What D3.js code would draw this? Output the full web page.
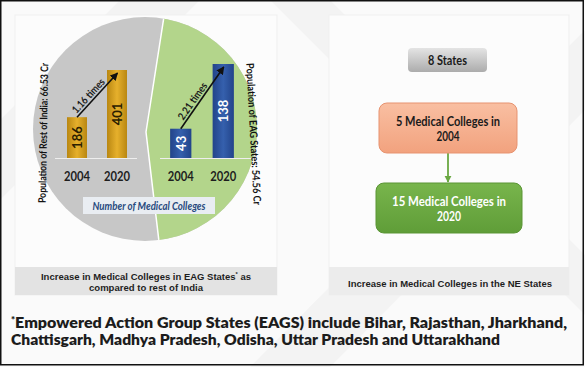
<!DOCTYPE html>
<html>
<head>
<meta charset="utf-8">
<script src="https://cdn.jsdelivr.net/npm/d3@7"></script>
<style>
  body { margin: 0; background: #fff; }
  svg { display: block; }
</style>
</head>
<body>
<svg id="chart"></svg>
<script>
const years = ["2004", "2020"]
const restOfIndia = [186, 401]
const eagStates = [43, 138]
const growth = ["1.16 times", "2.21 times"]
const population = ["Population of Rest of India: 66.53 Cr", "Population of EAG States: 54.56 Cr"]
const legendLabel = "Number of Medical Colleges"
const neSteps = [["8 States"], ["5 Medical Colleges in", "2004"], ["15 Medical Colleges in", "2020"]]
const captions = [["Increase in Medical Colleges in EAG States* as", "compared to rest of India"], ["Increase in Medical Colleges in the NE States"]]
const footnote = ["*Empowered Action Group States (EAGS) include Bihar, Rajasthan, Jharkhand,", "Chattisgarh, Madhya Pradesh, Odisha, Uttar Pradesh and Uttarakhand"]

const W = 585, H = 367
const CAL = "Lato, 'Open Sans', sans-serif"
const ARIAL = "'Liberation Sans', Arial, sans-serif"

const svg = d3.select("#chart").attr("width", W).attr("height", H)
const defs = svg.append("defs")

// fit a text element to a measured width
const fit = (sel, w) => sel.attr("textLength", w).attr("lengthAdjust", "spacingAndGlyphs")

// write text, turning "*" into a small raised mark
const starText = (sel, s) => {
    s.split(/(\*)/).filter(p => p).forEach(p => {
        const ts = sel.append("tspan").text(p)
        if (p === "*") ts.attr("font-size", "0.6em").attr("dy", "-0.35em")
        else if (sel.selectAll("tspan").size() > 1) ts.attr("dy", "0.21em")
    })
}

const hGrad = (id, stops) => {
    const g = defs.append("linearGradient").attr("id", id)
    stops.forEach(([o, c]) => g.append("stop").attr("offset", o).attr("stop-color", c))
}
const vGrad = (id, stops) => {
    const g = defs.append("linearGradient").attr("id", id).attr("x1", 0).attr("x2", 0).attr("y1", 0).attr("y2", 1)
    stops.forEach(([o, c]) => g.append("stop").attr("offset", o).attr("stop-color", c))
}
hGrad("gold", [[0, "#b98712"], [0.5, "#e6b02c"], [1, "#b98712"]])
hGrad("blue", [[0, "#22448a"], [0.5, "#3560ad"], [1, "#22448a"]])
vGrad("greyBox", [[0, "#e4e4e4"], [1, "#acacac"]])
vGrad("orangeBox", [[0, "#f9bfa2"], [1, "#f2a27e"]])
vGrad("greenBox", [[0, "#78b54c"], [1, "#5f9d38"]])

defs.append("marker").attr("id", "head").attr("viewBox", "0 0 10 10")
    .attr("refX", 9).attr("refY", 5).attr("markerWidth", 5).attr("markerHeight", 5)
    .attr("orient", "auto")
    .append("path").attr("d", "M0,0L10,5L0,10z").attr("fill", "#111")
defs.append("marker").attr("id", "headGreen").attr("viewBox", "0 0 10 10")
    .attr("refX", 9).attr("refY", 5).attr("markerWidth", 4).attr("markerHeight", 4)
    .attr("orient", "auto")
    .append("path").attr("d", "M0,0L10,5L0,10z").attr("fill", "#6aa842")

// page background with faint diagonal bands
svg.append("rect").attr("width", W).attr("height", H).attr("fill", "#fafafa")
const bands = [
    [[0, 120], [120, 0], [200, 0], [0, 200]],
    [[270, 0], [330, 0], [585, 255], [585, 315]],
    [[250, 367], [330, 367], [585, 110], [585, 30]]
]
svg.append("g").selectAll("path").data(bands).join("path")
    .attr("d", d => d3.line()(d) + "Z").attr("fill", "#f3f3f3")

// panels
const panels = [{ x: 15, w: 262 }, { x: 329, w: 240 }]
svg.append("g").selectAll("rect").data(panels).join("rect")
    .attr("x", d => d.x).attr("y", 15).attr("width", d => d.w).attr("height", 280)
    .attr("fill", "#fcfcfc").attr("stroke", "#efefef")
svg.append("g").selectAll("rect").data(panels).join("rect")
    .attr("x", d => d.x).attr("y", 267).attr("width", d => d.w).attr("height", 28)
    .attr("fill", (d, i) => i ? "#ececec" : "#e3e3e3")

// ---- left panel: split circle
const cx = 145, cy = 129, R = 112
const split = [[165, 10], [146, 132], [160, 250]]
defs.append("clipPath").attr("id", "greenClip").append("path")
    .attr("d", d3.line()([...split, [270, 250], [270, 10]]) + "Z")
defs.append("clipPath").attr("id", "circleClip").append("circle")
    .attr("cx", cx).attr("cy", cy).attr("r", R)

const disc = svg.append("g")
disc.append("circle").attr("cx", cx).attr("cy", cy).attr("r", R).attr("fill", "#c7c7c7")
disc.append("circle").attr("cx", cx).attr("cy", cy).attr("r", R).attr("fill", "#b3d58b")
    .attr("clip-path", "url(#greenClip)")
disc.append("path").attr("d", d3.line()(split)).attr("fill", "none")
    .attr("stroke", "#fff").attr("stroke-width", 1.5).attr("clip-path", "url(#circleClip)")

const baseY = 158
const charts = [
    { values: restOfIndia, range: [57, 137], top: 70, fill: "url(#gold)", label: "#2b2000", line: [55, 137] },
    { values: eagStates, range: [159.5, 244.5], top: 64, fill: "url(#blue)", label: "#fff", line: [160, 253] }
]

charts.forEach((c, ci) => {
    const x = d3.scaleBand().domain(years).range(c.range).paddingInner(0.5).paddingOuter(0.25)
    const y = d3.scaleLinear().domain([0, d3.max(c.values)]).range([baseY, c.top])
    const g = svg.append("g")

    g.append("line").attr("x1", c.line[0]).attr("x2", c.line[1])
        .attr("y1", baseY + 0.5).attr("y2", baseY + 0.5).attr("stroke", "#eeeeee").attr("stroke-width", 1)

    g.selectAll("rect").data(c.values).join("rect")
        .attr("x", (d, i) => x(years[i])).attr("width", x.bandwidth())
        .attr("y", d => y(d)).attr("height", d => baseY - y(d))
        .attr("fill", c.fill)

    g.selectAll("text.val").data(c.values).join("text").attr("class", "val")
        .attr("transform", (d, i) => `translate(${x(years[i]) + x.bandwidth() / 2},${(y(d) + baseY) / 2}) rotate(-90)`)
        .attr("text-anchor", "middle").attr("dominant-baseline", "central")
        .attr("font-family", CAL).attr("font-weight", 700).attr("font-size", 13)
        .attr("fill", c.label).text(d => d)

    g.selectAll("text.year").data(years).join("text").attr("class", "year")
        .attr("x", d => x(d) + x.bandwidth() / 2).attr("y", 175)
        .attr("text-anchor", "middle").attr("dominant-baseline", "central")
        .attr("font-family", CAL).attr("font-weight", 700).attr("font-size", 14)
        .attr("fill", "#1e1e1e").text(d => d)
        .call(fit, 26)

    // growth arrow between the two bar tops
    const x0 = x(years[0]) + x.bandwidth() / 2, y0 = y(c.values[0])
    const x1 = x(years[1]) + x.bandwidth() / 2 + 0.5, y1 = y(c.values[1]) + 3
    g.append("line").attr("x1", x0).attr("y1", y0).attr("x2", x1).attr("y2", y1)
        .attr("stroke", "#111").attr("stroke-width", 1.6).attr("marker-end", "url(#head)")
    const len = Math.hypot(x1 - x0, y1 - y0)
    const ux = (x1 - x0) / len, uy = (y1 - y0) / len
    const ang = Math.atan2(uy, ux) * 180 / Math.PI
    const t = 0.39 * len, off = 6.5
    const lx = x0 + ux * t + uy * off, ly = y0 + uy * t - ux * off
    g.append("text")
        .attr("transform", `translate(${lx},${ly}) rotate(${ang})`)
        .attr("text-anchor", "middle").attr("dominant-baseline", "central")
        .attr("font-family", CAL).attr("font-weight", 700).attr("font-size", 10.5)
        .attr("fill", "#1a1a1a").text(growth[ci])
        .call(fit, 43)
})

// population labels along the disc
const popPos = [{ x: 43, y: 133, r: -89, w: 140 }, { x: 254, y: 134, r: 87, w: 142 }]
svg.append("g").selectAll("text").data(population).join("text")
    .attr("transform", (d, i) => `translate(${popPos[i].x},${popPos[i].y}) rotate(${popPos[i].r})`)
    .attr("text-anchor", "middle").attr("dominant-baseline", "central")
    .attr("font-family", CAL).attr("font-weight", 700).attr("font-size", 10.5)
    .attr("fill", "#111").text(d => d)
    .each(function (d, i) { d3.select(this).call(fit, popPos[i].w) })

// legend box
svg.append("rect").attr("x", 83).attr("y", 197).attr("width", 132).attr("height", 17).attr("fill", "#e9edf2")
svg.append("text").attr("x", 149).attr("y", 205.5)
    .attr("text-anchor", "middle").attr("dominant-baseline", "central")
    .attr("font-family", CAL).attr("font-weight", 700).attr("font-style", "italic").attr("font-size", 10.5)
    .attr("fill", "#284a7e").text(legendLabel)
    .call(fit, 113)

// ---- right panel: NE flow
const boxes = [
    { x: 408, y: 48, w: 79, h: 24, rx: 4, fill: "url(#greyBox)", stroke: "none", color: "#1b1b1b", widths: [39] },
    { x: 379, y: 103, w: 138, h: 50, rx: 8, fill: "url(#orangeBox)", stroke: "#e79370", color: "#1b1b1b", widths: [104, 23] },
    { x: 376, y: 183, w: 146, h: 50, rx: 8, fill: "url(#greenBox)", stroke: "#5a9535", color: "#fff", widths: [114, 24] }
]
const flow = svg.append("g")
flow.append("line").attr("x1", 448).attr("x2", 448).attr("y1", 153).attr("y2", 182)
    .attr("stroke", "#6aa842").attr("stroke-width", 1.8).attr("marker-end", "url(#headGreen)")
boxes.forEach((b, i) => {
    flow.append("rect").attr("x", b.x).attr("y", b.y).attr("width", b.w).attr("height", b.h)
        .attr("rx", b.rx).attr("fill", b.fill).attr("stroke", b.stroke)
    const lines = neSteps[i]
    const mid = b.y + b.h / 2
    lines.forEach((t, j) => {
        flow.append("text").attr("x", b.x + b.w / 2)
            .attr("y", mid + (j - (lines.length - 1) / 2) * 15 + (lines.length > 1 ? 0.5 : 0))
            .attr("text-anchor", "middle").attr("dominant-baseline", "central")
            .attr("font-family", CAL).attr("font-weight", 700).attr("font-size", 12.5)
            .attr("fill", b.color).text(t)
            .call(fit, b.widths[j])
    })
})

// captions
const capPos = [{ x: 146, y: [276, 286.5], w: [210, 114] }, { x: 450, y: [283], w: [204] }]
captions.forEach((lines, i) => {
    lines.forEach((t, j) => {
        svg.append("text").attr("x", capPos[i].x).attr("y", capPos[i].y[j])
            .attr("text-anchor", "middle").attr("dominant-baseline", "central")
            .attr("font-family", ARIAL).attr("font-weight", 700).attr("font-size", 9.5)
            .attr("fill", "#1e1e1e")
            .call(starText, t)
            .call(fit, capPos[i].w[j])
    })
})

// footnote
const footPos = [{ y: 322, w: 556 }, { y: 339, w: 489 }]
svg.append("g").selectAll("text").data(footnote).join("text")
    .attr("x", 11).attr("y", (d, i) => footPos[i].y)
    .attr("dominant-baseline", "central")
    .attr("font-family", CAL).attr("font-weight", 800).attr("font-size", 14.5)
    .attr("fill", "#1c1c1c")
    .each(function (d, i) { d3.select(this).call(starText, d).call(fit, footPos[i].w) })

// outer frame
svg.append("rect").attr("x", 0.75).attr("y", 0.75).attr("width", W - 2.5).attr("height", H - 3)
    .attr("fill", "none").attr("stroke", "#111").attr("stroke-width", 1.5)
</script>
</body>
</html>
